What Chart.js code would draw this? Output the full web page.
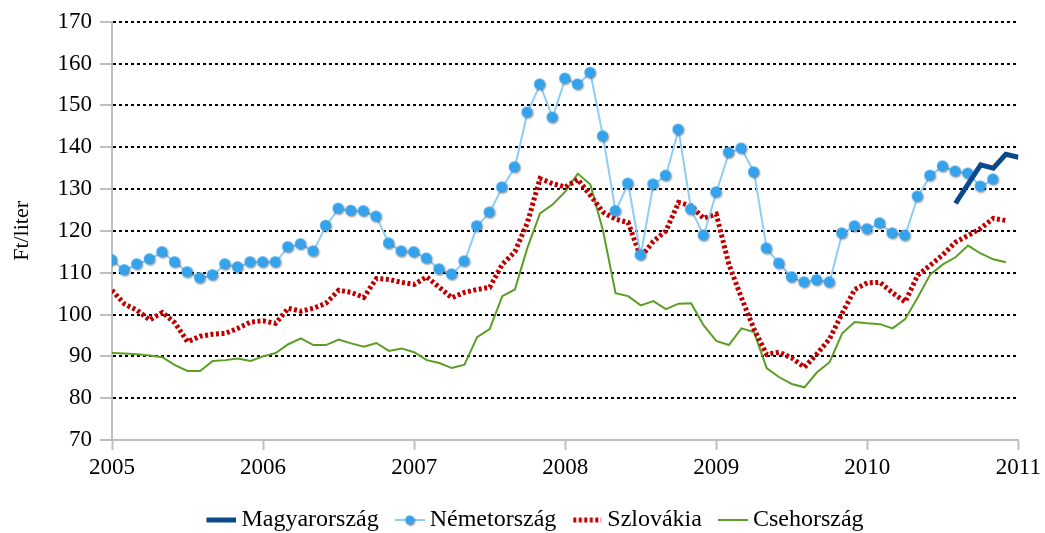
<!DOCTYPE html>
<html>
<head>
<meta charset="utf-8">
<script src="https://cdn.jsdelivr.net/npm/chart.js@4.4.1/dist/chart.umd.min.js"></script>
<style>
html,body{margin:0;padding:0;background:#fff;}
#wrap{width:1045px;height:533px;position:relative;}
</style>
</head>
<body>
<div id="wrap"><canvas id="c" width="1045" height="533"></canvas></div>
<script>
// month index 0 = 2005 January ... 72 = 2011 January
const startYear = 2005;
const yearTicks = [2005, 2006, 2007, 2008, 2009, 2010, 2011];
const seriesNames = ["Magyarország", "Németország", "Szlovákia", "Csehország"];

const magyarStart = 67;
const magyar = [126.6, 131.2, 135.8, 135.0, 138.3, 137.6];

const nemet = [113, 110.6, 112, 113.2, 114.9, 112.5, 110.1, 108.7, 109.4, 112, 111.3, 112.5,
  112.5, 112.5, 116.1, 116.8, 115.1, 121.2, 125.3, 124.8, 124.7, 123.4, 117, 115.1,
  114.9, 113.4, 110.8, 109.6, 112.7, 121.1, 124.4, 130.4, 135.2, 148.3, 155, 147.1,
  156.4, 155, 157.8, 142.6, 124.7, 131.3, 114.2, 131.1, 133.2, 144.2, 125.1, 118.9,
  129.2, 138.7, 139.7, 134, 115.8, 112.2, 108.9, 107.7, 108.2, 107.7, 119.4, 121.1,
  120.4, 121.8, 119.4, 118.9, 128.2, 133.2, 135.4, 134.2, 133.7, 130.6, 132.3];

const szlovak = [105.8, 102.5, 101, 98.7, 100.5, 98, 93.5, 94.8, 95.3, 95.5, 96.7, 98.2,
  98.5, 97.9, 101.5, 100.8, 101.5, 102.7, 105.8, 105.3, 104.1, 108.6, 108.4, 107.7,
  107.2, 109, 106.5, 104, 105.3, 106, 106.5, 112, 115, 122, 132.5, 131.3,
  130.5, 132.3, 128.5, 124.5, 122.8, 122, 113.7, 117.5, 120, 126.8, 126, 123,
  124, 112, 104, 96.5, 90.5, 91, 89.6, 87.4, 90.6, 94.2, 100.3, 106,
  107.6, 107.7, 105.2, 103, 109.4, 111.8, 114.3, 117.3, 118.9, 120.6, 123, 122.5];

const cseh = [90.8, 90.7, 90.5, 90.2, 89.8, 87.9, 86.5, 86.5, 88.9, 89.1, 89.5, 88.9,
  90, 90.8, 92.9, 94.3, 92.7, 92.7, 94, 93.1, 92.3, 93.2, 91.3, 91.9,
  91, 89.1, 88.4, 87.2, 88, 94.6, 96.5, 104.4, 106, 116, 124.2, 126.3,
  129.4, 133.7, 131.1, 120.1, 105.1, 104.4, 102.2, 103.2, 101.3, 102.6, 102.7, 97.4,
  93.7, 92.7, 96.7, 95.8, 87.2, 85, 83.4, 82.6, 86.2, 88.6, 95.5, 98.2,
  97.9, 97.7, 96.7, 98.9, 104.1, 109.6, 112, 113.7, 116.5, 114.6, 113.2, 112.5];

const yMin = 70, yMax = 170, yStep = 10;

function pts(arr, offset) {
  return arr.map((v, i) => ({x: i + (offset || 0), y: v}));
}

const FONT = "'Liberation Serif', 'DejaVu Serif', serif";
const C_HU = '#0b4a8a', C_DE_LINE = '#8dcdf7', C_DE_DOT = '#35a2ec', C_SK = '#c00000', C_CZ = '#5b9e24';

function drawDot(g, cx, cy, r) {
  g.save();
  g.shadowColor = 'rgba(0,0,0,0.45)';
  g.shadowBlur = 2;
  g.shadowOffsetX = 1;
  g.shadowOffsetY = 1.2;
  g.fillStyle = C_DE_DOT;
  g.beginPath(); g.arc(cx, cy, r, 0, Math.PI * 2); g.fill();
  g.restore();
}
const dotImg = (() => {
  const c = document.createElement('canvas');
  c.width = 16; c.height = 16;
  drawDot(c.getContext('2d'), 7.5, 7.5, 5.5);
  return c;
})();

const LEG_BOX = 29, LEG_IMG_W = 43, LEG_PAD = 10, LEG_FONT = 24;
function legendCanvas(kind) {
  const c = document.createElement('canvas');
  c.width = LEG_IMG_W; c.height = 14;
  const g = c.getContext('2d');
  const x0 = LEG_IMG_W - 30, x1 = LEG_IMG_W;
  g.lineCap = 'butt';
  if (kind === 0) {
    g.strokeStyle = C_HU; g.lineWidth = 5;
    g.beginPath(); g.moveTo(x0, 7); g.lineTo(x1, 7); g.stroke();
  } else if (kind === 1) {
    g.strokeStyle = C_DE_LINE; g.lineWidth = 2;
    g.beginPath(); g.moveTo(x0, 7); g.lineTo(x1, 7); g.stroke();
    drawDot(g, (x0 + x1) / 2, 7, 4.5);
  } else if (kind === 2) {
    g.strokeStyle = C_SK; g.lineWidth = 5; g.setLineDash([3, 2.5]);
    g.beginPath(); g.moveTo(x0 + 1, 7); g.lineTo(x1 - 1, 7); g.stroke();
  } else {
    g.strokeStyle = C_CZ; g.lineWidth = 2;
    g.beginPath(); g.moveTo(x0, 7); g.lineTo(x1, 7); g.stroke();
  }
  return c;
}
const legendImgs = [0, 1, 2, 3].map(legendCanvas);

// shift the legend to its place below the plot
const legendPlace = {
  id: 'legendPlace',
  afterLayout(chart) {
    const L = chart.legend;
    if (!L || !L.lineWidths) return;
    const lw = L.lineWidths[0];
    const cx = (L.left + LEG_PAD + L.right - lw) / 2;
    const dx = 535 - (cx + (lw - 4) / 2);
    const textCenter = L.top + LEG_PAD + LEG_FONT / 2;
    const dy = 520 - textCenter;
    L.left += dx; L.right += dx; L.top += dy; L.bottom += dy;
  }
};

new Chart(document.getElementById('c'), {
  type: 'line',
  data: {
    datasets: [
      {label: seriesNames[0], data: pts(magyar, magyarStart), borderColor: C_HU, borderWidth: 5,
        pointRadius: 0, fill: false, tension: 0, borderCapStyle: 'butt', borderJoinStyle: 'miter'},
      {label: seriesNames[1], data: pts(nemet), borderColor: C_DE_LINE, borderWidth: 2,
        pointStyle: dotImg, pointRadius: 5.5, pointBackgroundColor: C_DE_DOT,
        fill: false, tension: 0},
      {label: seriesNames[2], data: pts(szlovak), borderColor: C_SK, borderWidth: 5,
        borderDash: [3, 2.5], pointRadius: 0, fill: false, tension: 0, borderCapStyle: 'butt'},
      {label: seriesNames[3], data: pts(cseh), borderColor: C_CZ, borderWidth: 2,
        pointRadius: 0, fill: false, tension: 0}
    ]
  },
  plugins: [legendPlace],
  options: {
    responsive: false,
    animation: false,
    events: [],
    layout: {padding: {left: 0, right: 26, top: 21, bottom: 0}},
    scales: {
      x: {
        type: 'linear', min: 0, max: (yearTicks.length - 1) * 12,
        afterBuildTicks: (s) => { s.ticks = yearTicks.map((y, i) => ({value: i * 12})); },
        afterFit: (s) => { s.height = 49; },
        ticks: {
          callback: (v) => String(startYear + v / 12),
          color: '#000', font: {family: FONT, size: 23}, padding: 4, maxRotation: 0, autoSkip: false
        },
        grid: {drawOnChartArea: false, drawTicks: true, tickLength: 10, tickColor: '#bfbfbf', tickWidth: 2},
        border: {display: true, color: '#bfbfbf', width: 2}
      },
      y: {
        min: yMin, max: yMax,
        afterFit: (s) => { s.width = 112; },
        ticks: {stepSize: yStep, color: '#000', font: {family: FONT, size: 23}, padding: 8},
        grid: {
          color: (ctx) => (ctx.tick && ctx.tick.value === yMin) ? 'rgba(0,0,0,0)' : '#000',
          lineWidth: 2, tickLength: 12, tickColor: '#bfbfbf', tickWidth: 2
        },
        border: {display: true, color: '#bfbfbf', width: 2, dash: [3, 3]},
        title: {display: true, text: 'Ft/liter', color: '#000', font: {family: FONT, size: 22}, padding: {top: 9, bottom: 0}}
      }
    },
    plugins: {
      legend: {
        position: 'bottom',
        labels: {
          color: '#000', font: {family: FONT, size: LEG_FONT}, usePointStyle: true, pointStyleWidth: LEG_BOX,
          boxHeight: 14, padding: LEG_PAD,
          generateLabels: (chart) => chart.data.datasets.map((d, i) => ({
            text: d.label, pointStyle: legendImgs[i], fillStyle: 'rgba(0,0,0,0)', strokeStyle: 'rgba(0,0,0,0)',
            lineWidth: 0, hidden: false, datasetIndex: i, fontColor: '#000'
          }))
        }
      },
      tooltip: {enabled: false}
    }
  }
});
</script>
</body>
</html>
